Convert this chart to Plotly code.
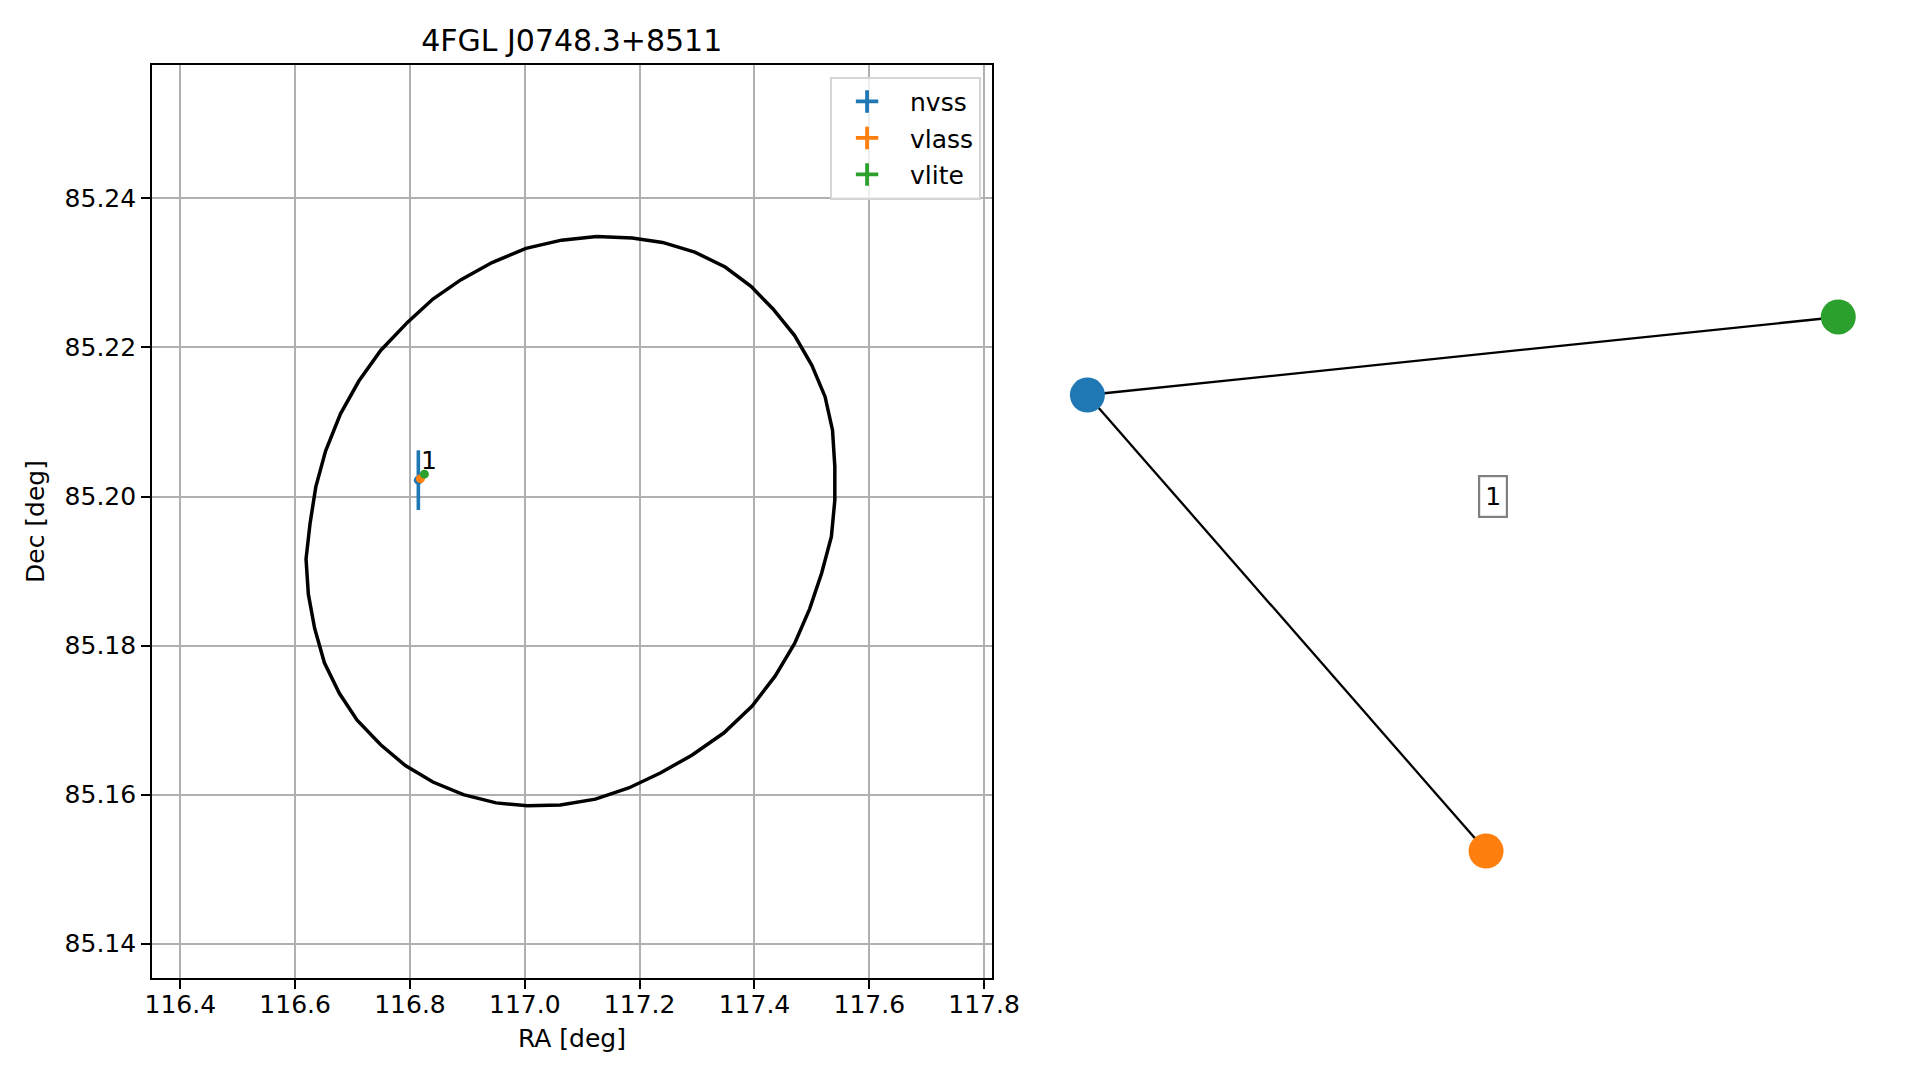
import plotly.graph_objects as go

# ---------------- data ----------------
title_text = "4FGL J0748.3+8511"

# error-ellipse outline (RA, Dec)
ell_ra = [117.125, 117.187, 117.240, 117.296, 117.349, 117.394, 117.432, 117.470, 117.500, 117.523,
          117.536, 117.540, 117.540, 117.534, 117.517, 117.496, 117.470, 117.436, 117.396, 117.347,
          117.291, 117.236, 117.181, 117.123, 117.062, 117.005, 116.950, 116.893, 116.840, 116.792,
          116.749, 116.708, 116.677, 116.651, 116.634, 116.623, 116.619, 116.626, 116.636, 116.653,
          116.679, 116.711, 116.749, 116.796, 116.840, 116.889, 116.943, 117.002, 117.064, 117.125]
ell_dec = [85.2349, 85.2347, 85.2341, 85.2328, 85.2308, 85.2282, 85.2252, 85.2216, 85.2176, 85.2134,
           85.2089, 85.2040, 85.1995, 85.1946, 85.1897, 85.1849, 85.1803, 85.1759, 85.1719, 85.1683,
           85.1653, 85.1629, 85.1609, 85.1594, 85.1586, 85.1585, 85.1589, 85.1600, 85.1617, 85.1639,
           85.1667, 85.1700, 85.1736, 85.1777, 85.1823, 85.1869, 85.1916, 85.1964, 85.2013, 85.2061,
           85.2111, 85.2155, 85.2196, 85.2234, 85.2265, 85.2291, 85.2314, 85.2333, 85.2344, 85.2349]

surveys = ["nvss", "vlass", "vlite"]
colors = ["#1f77b4", "#ff7f0e", "#2ca02c"]
src_ra = [116.8146, 116.8182, 116.8251]
src_dec = [85.2022, 85.2024, 85.2030]
src_ra_err = [0.0030, 0.0006, 0.0008]
src_dec_err = [0.0040, 0.0002, 0.0003]
match_label = "1"
match_label_ra = 116.8332
match_label_dec = 85.2049

x_ticks = [116.4, 116.6, 116.8, 117.0, 117.2, 117.4, 117.6, 117.8]
y_ticks = [85.14, 85.16, 85.18, 85.20, 85.22, 85.24]

# graph panel (networkx-style), node positions in panel units
node_names = ["nvss", "vlite", "vlass"]
node_colors = ["#1f77b4", "#2ca02c", "#ff7f0e"]
node_x = [0.0958, 0.9524, 0.5506]
node_y = [0.6349, 0.7085, 0.2047]
edges = [(0, 1), (0, 2)]
graph_label = "1"
graph_label_x = 0.5589
graph_label_y = 0.5387

# ---------------- figure ----------------
FONT = "DejaVu Sans"
fig = go.Figure()

fig.add_trace(go.Scatter(x=ell_ra, y=ell_dec, mode="lines",
                         line=dict(color="black", width=3.5),
                         showlegend=False, hoverinfo="skip",
                         xaxis="x", yaxis="y"))

for i, name in enumerate(surveys):
    fig.add_trace(go.Scatter(
        x=[src_ra[i]], y=[src_dec[i]], mode="markers",
        marker=dict(color=colors[i], size=9),
        error_x=dict(type="data", array=[src_ra_err[i]], color=colors[i], thickness=3.6, width=0),
        error_y=dict(type="data", array=[src_dec_err[i]], color=colors[i], thickness=3.6, width=0),
        showlegend=False, name=name, xaxis="x", yaxis="y"))

# legend entries (errorbar-style crosses)
for i, name in enumerate(surveys):
    fig.add_trace(go.Scatter(
        x=[None], y=[None], mode="markers", name="\u00a0" + name, legendgroup=name,
        marker=dict(symbol="cross-thin", size=24, color=colors[i],
                    line=dict(color=colors[i], width=3.8)),
        xaxis="x", yaxis="y"))

fig.add_annotation(x=match_label_ra, y=match_label_dec, text=match_label, showarrow=False,
                   xref="x", yref="y", font=dict(family=FONT, size=25, color="black"))

# graph panel edges
for a, b in edges:
    fig.add_trace(go.Scatter(x=[node_x[a], node_x[b]], y=[node_y[a], node_y[b]], mode="lines",
                             line=dict(color="black", width=2.3), showlegend=False,
                             hoverinfo="skip", xaxis="x2", yaxis="y2"))
fig.add_trace(go.Scatter(x=node_x, y=node_y, mode="markers", text=node_names,
                         marker=dict(color=node_colors, size=35, line=dict(width=0)),
                         showlegend=False, hoverinfo="text", xaxis="x2", yaxis="y2"))
fig.add_annotation(x=graph_label_x, y=graph_label_y, text=graph_label, showarrow=False,
                   xref="x2", yref="y2", font=dict(family=FONT, size=25, color="black"),
                   bordercolor="#808080", borderwidth=2.2, borderpad=5, bgcolor="white")

axis_common = dict(showgrid=True, gridcolor="#b0b0b0", gridwidth=2,
                   showline=True, mirror=True, linecolor="black", linewidth=2,
                   ticks="outside", ticklen=8.7, tickwidth=2, tickcolor="black",
                   zeroline=False, tickfont=dict(family=FONT, size=25, color="black"))

fig.update_layout(
    width=1900, height=1060,
    margin=dict(l=0, r=0, t=0, b=0),
    paper_bgcolor="white", plot_bgcolor="rgba(0,0,0,0)",
    font=dict(family=FONT, color="black"),
    title=dict(text=title_text, x=0.2967, y=0.9698, xanchor="center", yanchor="middle",
               font=dict(family=FONT, size=30, color="black")),
    xaxis=dict(domain=[0.0734, 0.5239], range=[116.3505, 117.8139],
               tickvals=x_ticks, ticktext=[f"{v:.1f}" for v in x_ticks],
               ticklabelstandoff=-6,
               title=dict(text="RA [deg]", standoff=12, font=dict(family=FONT, size=25)),
               anchor="y", **axis_common),
    yaxis=dict(domain=[0.0849, 0.9462], range=[85.1354, 85.2579],
               tickvals=y_ticks, ticktext=[f"{v:.2f}" for v in y_ticks],
               title=dict(text="Dec [deg]", standoff=13, font=dict(family=FONT, size=25)),
               anchor="x", **axis_common),
    xaxis2=dict(domain=[0.53, 1.0], range=[0, 1], visible=False, anchor="y2"),
    yaxis2=dict(domain=[0.0, 1.0], range=[0, 1], visible=False, anchor="x2"),
    legend=dict(x=0.5180, y=0.9352, xanchor="right", yanchor="top",
                bgcolor="rgba(255,255,255,0.8)", bordercolor="#d5d5d5", borderwidth=2,
                font=dict(family=FONT, size=25, color="black"), itemwidth=60,
                tracegroupgap=1),
    showlegend=True,
)

fig.write_html("out.html")
